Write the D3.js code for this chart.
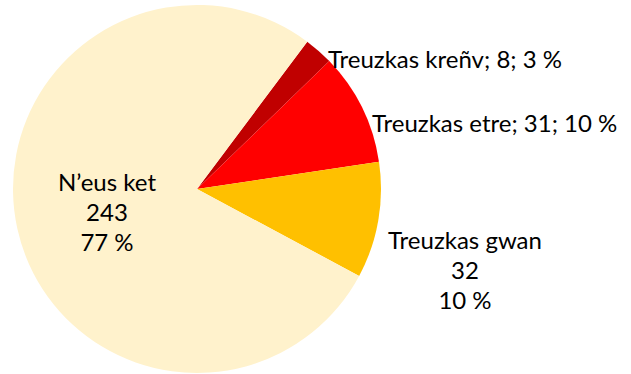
<!DOCTYPE html>
<html>
<head>
<meta charset="utf-8">
<script src="https://cdn.jsdelivr.net/npm/d3@7"></script>
<style>
  html, body { margin: 0; padding: 0; background: #fff; }
  svg { display: block; }
  text { font-family: Lato, "Open Sans", sans-serif; fill: #000; }
</style>
</head>
<body>
<svg id="chart" width="631" height="374"></svg>
<script>
// Intensity categories, clockwise from the first slice
const categories = ["Treuzkas kreñv", "Treuzkas etre", "Treuzkas gwan", "N’eus ket"];
const counts = [8, 31, 32, 243];
const percentLabels = ["3 %", "10 %", "10 %", "77 %"];
const colors = ["#C00000", "#FF0000", "#FFC000", "#FFF2CC"];

const width = 631, height = 374;
const cx = 197, cy = 189, radius = 184;
const firstSliceAngle = 36.8 * Math.PI / 180;
const fontSize = 24;
const lineGap = 30;

// Label placement: anchor point and alignment for each slice
const labelLayout = [
  { x: 328, y: 68, anchor: "start", multiline: false },
  { x: 372, y: 132, anchor: "start", multiline: false },
  { x: 465, y: 249, anchor: "middle", multiline: true },
  { x: 107, y: 191, anchor: "middle", multiline: true }
];

const data = categories.map((c, i) => ({ name: c, value: counts[i], pct: percentLabels[i], color: colors[i] }));

const pie = d3.pie()
  .value(d => d.value)
  .sort(null)
  .startAngle(firstSliceAngle)
  .endAngle(firstSliceAngle + 2 * Math.PI);

const arc = d3.arc().innerRadius(0).outerRadius(radius);

const svg = d3.select("#chart");
const g = svg.append("g").attr("transform", `translate(${cx},${cy})`);

g.selectAll("path")
  .data(pie(data))
  .join("path")
  .attr("d", arc)
  .attr("fill", d => d.data.color);

const labels = svg.append("g")
  .selectAll("text")
  .data(data)
  .join("text")
  .attr("font-size", fontSize)
  .attr("text-anchor", (d, i) => labelLayout[i].anchor)
  .attr("x", (d, i) => labelLayout[i].x)
  .attr("y", (d, i) => labelLayout[i].y);

labels.each(function (d, i) {
  const t = d3.select(this);
  const L = labelLayout[i];
  if (L.multiline) {
    [d.name, String(d.value), d.pct].forEach((line, k) => {
      t.append("tspan").attr("x", L.x).attr("dy", k === 0 ? 0 : lineGap).text(line);
    });
  } else {
    t.text(`${d.name}; ${d.value}; ${d.pct}`);
  }
});
</script>
</body>
</html>
